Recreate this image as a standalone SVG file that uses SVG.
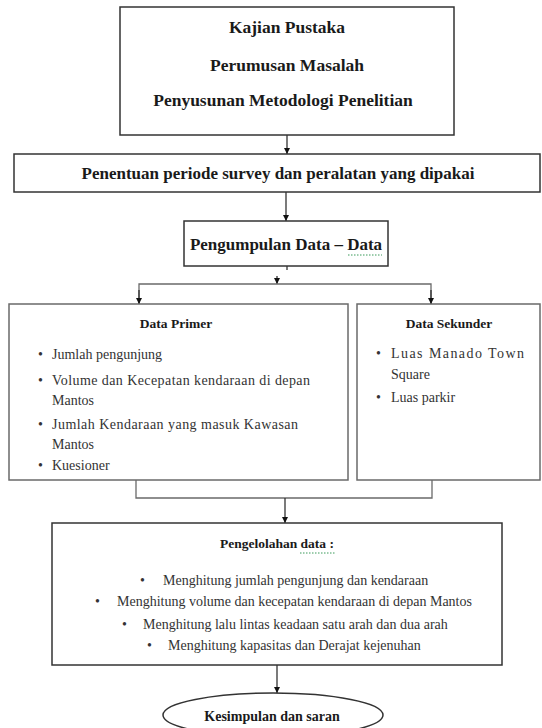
<svg xmlns="http://www.w3.org/2000/svg" width="542" height="728" viewBox="0 0 542 728">
<defs>
<marker id="ah" viewBox="0 0 10 10" refX="10" refY="5" markerWidth="6" markerHeight="6" orient="auto" markerUnits="userSpaceOnUse">
<path d="M0,0 L10,5 L0,10 Z" fill="#111"/>
</marker>
<style>
.box{fill:#fff;stroke:#333;stroke-width:1.5}
.gbox{fill:#fff;stroke:#6a6a6a;stroke-width:1.5}
.conn{fill:none;stroke:#333;stroke-width:1.3}
.gconn{fill:none;stroke:#6a6a6a;stroke-width:1.3}
.t{font-family:"Liberation Serif","Times New Roman",serif;fill:#1a1a1a}
.h{font-weight:bold;font-size:17px}
.h1{font-weight:bold;font-size:17.5px}
.s{font-weight:bold;font-size:13.5px}
.b{font-size:14px;fill:#333}
.sq{stroke:#3a9a5a;stroke-width:1;stroke-dasharray:1.5 1.5}
</style>
</defs>
<rect width="542" height="728" fill="#fff"/>

<g id="connectors">
<path class="conn" d="M287,135 V154" marker-end="url(#ah)"/>
<path class="conn" d="M286,192 V221" marker-end="url(#ah)"/>
<path class="conn" d="M287,266 V270"/>
<path class="conn" d="M277,276 V284" marker-end="url(#ah)"/>
<path class="gconn" d="M139,304 V284 H431 V304"/>
<path class="conn" d="M139,290 V304" marker-end="url(#ah)"/>
<path class="conn" d="M431,290 V304" marker-end="url(#ah)"/>
<path class="gconn" d="M136,480 V498 H432 V480"/>
<path class="conn" d="M285,498 V523" marker-end="url(#ah)"/>
<path class="conn" d="M277,665 V693" marker-end="url(#ah)"/>
</g>

<g id="kajian">
<rect class="box" x="120" y="7" width="334" height="128"/>
<text class="t h1" x="287" y="33" text-anchor="middle">Kajian Pustaka</text>
<text class="t h1" x="287" y="71" text-anchor="middle">Perumusan  Masalah</text>
<text class="t h1" x="283" y="106" text-anchor="middle">Penyusunan Metodologi Penelitian</text>
</g>

<g id="penentuan">
<rect class="box" x="14" y="154" width="526" height="38"/>
<text class="t h" x="278" y="179" text-anchor="middle">Penentuan periode survey dan peralatan yang dipakai</text>
</g>

<g id="pengumpulan">
<rect class="box" x="184" y="221" width="204" height="45"/>
<text class="t h" x="286" y="250" text-anchor="middle">Pengumpulan Data – Data</text>
<line class="sq" x1="348" y1="255" x2="382" y2="255"/>
</g>

<g id="primer">
<rect class="gbox" x="9" y="304" width="339" height="176"/>
<text class="t s" x="176" y="328" text-anchor="middle">Data Primer</text>
<text class="t b" x="38" y="359">•</text>
<text class="t b" x="52" y="359">Jumlah pengunjung</text>
<text class="t b" x="38" y="385">•</text>
<text class="t b" x="52" y="385" textLength="258" lengthAdjust="spacing">Volume dan Kecepatan kendaraan di depan</text>
<text class="t b" x="52" y="405">Mantos</text>
<text class="t b" x="38" y="429">•</text>
<text class="t b" x="52" y="429" textLength="246" lengthAdjust="spacing">Jumlah Kendaraan yang masuk Kawasan</text>
<text class="t b" x="52" y="449">Mantos</text>
<text class="t b" x="38" y="470">•</text>
<text class="t b" x="52" y="470">Kuesioner</text>
</g>

<g id="sekunder">
<rect class="gbox" x="357" y="304" width="183" height="176"/>
<text class="t s" x="449" y="328" text-anchor="middle">Data Sekunder</text>
<text class="t b" x="376" y="358">•</text>
<text class="t b" x="391" y="358" textLength="133" lengthAdjust="spacing">Luas Manado Town</text>
<text class="t b" x="391" y="379">Square</text>
<text class="t b" x="376" y="402">•</text>
<text class="t b" x="391" y="402">Luas parkir</text>
</g>

<g id="pengolahan">
<rect class="box" x="52" y="523" width="450" height="142"/>
<text class="t s" x="277" y="548" text-anchor="middle">Pengelolahan data :</text>
<line class="sq" x1="300" y1="553" x2="336" y2="553"/>
<text class="t b" x="140" y="585">•</text>
<text class="t b" x="163" y="585">Menghitung jumlah pengunjung dan kendaraan</text>
<text class="t b" x="95" y="606">•</text>
<text class="t b" x="117" y="606">Menghitung volume dan kecepatan kendaraan di depan Mantos</text>
<text class="t b" x="122" y="629">•</text>
<text class="t b" x="143" y="629">Menghitung lalu lintas keadaan satu arah dan dua arah</text>
<text class="t b" x="147" y="650">•</text>
<text class="t b" x="168" y="650">Menghitung kapasitas dan Derajat kejenuhan</text>
</g>

<g id="kesimpulan">
<ellipse class="box" cx="273" cy="715" rx="110" ry="22"/>
<text class="t s" x="272" y="721" text-anchor="middle" style="font-size:14px">Kesimpulan dan saran</text>
</g>
</svg>
